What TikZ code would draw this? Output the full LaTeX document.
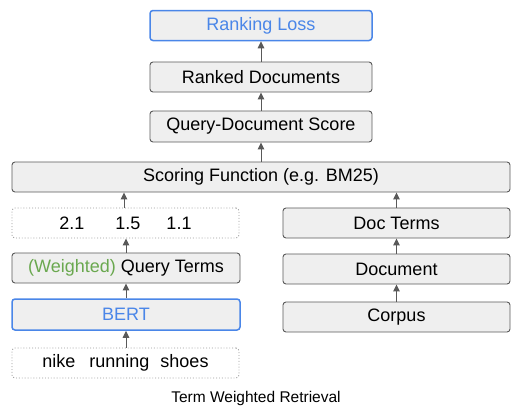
\documentclass[tikz,border=0pt]{standalone}
\usepackage{fontspec}
\setmainfont{Liberation Sans}
\usetikzlibrary{arrows.meta}
\definecolor{boxfill}{HTML}{EFEFEF}
\definecolor{boxline}{HTML}{595959}
\definecolor{gblue}{HTML}{4A86E8}
\definecolor{ggreen}{HTML}{6AA84F}
\definecolor{dotline}{HTML}{999999}
\tikzset{
  box/.style={draw=boxline, fill=boxfill, rounded corners=3pt, line width=0.9pt,
    minimum height=30pt, inner sep=0pt, font=\fontsize{18}{20}\selectfont},
  bluebox/.style={box, draw=gblue, line width=1.5pt, text=gblue},
  dotbox/.style={draw=dotline, fill=white, rounded corners=3pt, dotted, line width=0.9pt,
    minimum height=30pt, inner sep=0pt, font=\fontsize{18}{20}\selectfont},
  arr/.style={draw=boxline, line width=1pt, -{Triangle[length=7pt,width=6.5pt]}},
}
\begin{document}
\begin{tikzpicture}[x=1pt,y=1pt]
\useasboundingbox (0,0) rectangle (530,-415);
\node[bluebox, minimum width=222pt] (loss) at (261,-25.5) {Ranking Loss};
\node[box, minimum width=222pt] (ranked) at (261,-77) {Ranked Documents};
\node[box, minimum width=222pt, minimum height=31pt] (qds) at (261,-126.5) {Query-Document Score};
\node[box, minimum width=498pt] (scoring) at (261,-177) {Scoring Function (e.g. BM25)};
\node[dotbox, minimum width=227pt] (nums) at (125.5,-223) {2.1\hspace{31pt}1.5\hspace{26pt}1.1};
\node[box, minimum width=227pt] (docterms) at (396.5,-223) {Doc Terms};
\node[box, minimum width=228pt] (qterms) at (126,-268) {{\color{ggreen}(Weighted)} Query Terms};
\node[box, minimum width=227pt] (document) at (396.5,-269) {Document};
\node[bluebox, minimum width=228pt, minimum height=31pt] (bert) at (126,-314.5) {BERT};
\node[box, minimum width=227pt] (corpus) at (396.5,-317) {Corpus};
\node[dotbox, minimum width=227pt] (nike) at (125.5,-363) {nike\hspace{14pt}running\hspace{11pt}shoes};
\node[font=\fontsize{15.5}{17}\selectfont, inner sep=0pt] (caption) at (256,-398) {Term Weighted Retrieval};
\draw[arr] (ranked.north) -- (loss.south);
\draw[arr] (qds.north) -- (ranked.south);
\draw[arr] (scoring.north -| qds.south) -- (qds.south);
\draw[arr] ([xshift=-1.5pt]nums.north) -- ([xshift=-1.5pt]nums.north |- scoring.south);
\draw[arr] (docterms.north) -- (docterms.north |- scoring.south);
\draw[arr] (qterms.north) -- (qterms.north |- nums.south);
\draw[arr] (bert.north) -- (qterms.south);
\draw[arr] (nike.north -| bert.south) -- (bert.south);
\draw[arr] (document.north) -- (docterms.south);
\draw[arr] (corpus.north) -- (document.south);
\end{tikzpicture}
\end{document}
